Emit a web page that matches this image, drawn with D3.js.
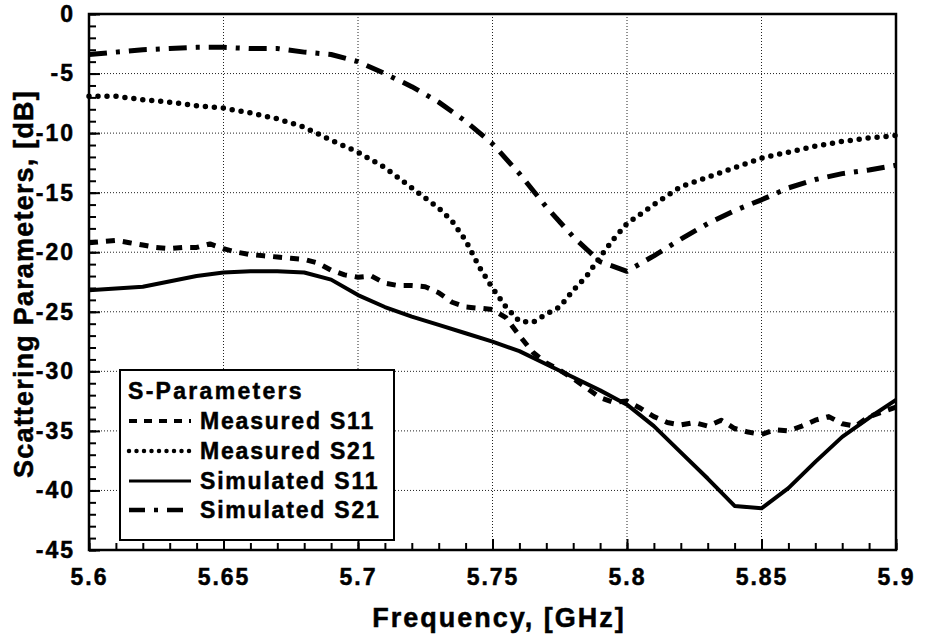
<!DOCTYPE html>
<html>
<head>
<meta charset="utf-8">
<script src="https://cdn.jsdelivr.net/npm/d3@7"></script>
<style>
  html, body { margin: 0; padding: 0; background: #fff; }
  svg { display: block; }
  text { font-family: "Liberation Sans", Arial, Helvetica, sans-serif; font-weight: bold; fill: #000; stroke: #000; stroke-width: 0.5px; }
</style>
</head>
<body>
<svg id="chart" width="930" height="638"></svg>
<script>
// ---------------- data ----------------
const xTicks = [5.6, 5.65, 5.7, 5.75, 5.8, 5.85, 5.9];
const xTickLabels = ["5.6", "5.65", "5.7", "5.75", "5.8", "5.85", "5.9"];
const yTicks = [0, -5, -10, -15, -20, -25, -30, -35, -40, -45];
const yTickLabels = ["0", "-5", "-10", "-15", "-20", "-25", "-30", "-35", "-40", "-45"];

const seriesNames = ["Measured S11", "Measured S21", "Simulated S11", "Simulated S21"];

const measS11Freq = [5.600,5.605,5.610,5.615,5.620,5.625,5.630,5.635,5.640,5.645,5.650,5.655,5.660,5.665,5.670,5.675,5.680,5.685,5.690,5.695,5.700,5.705,5.710,5.715,5.720,5.725,5.730,5.735,5.740,5.745,5.750,5.755,5.760,5.765,5.770,5.775,5.780,5.785,5.790,5.795,5.800,5.805,5.810,5.815,5.820,5.825,5.830,5.835,5.840,5.845,5.850,5.855,5.860,5.865,5.870,5.875,5.880,5.885,5.890,5.895,5.900];
const measS11 = [-19.2,-19.1,-19.0,-19.2,-19.4,-19.6,-19.7,-19.6,-19.6,-19.3,-19.7,-20.0,-20.2,-20.3,-20.4,-20.5,-20.6,-20.9,-21.5,-21.9,-22.1,-22.0,-22.6,-22.8,-22.8,-22.9,-23.4,-24.2,-24.6,-24.7,-24.8,-25.5,-27.0,-28.4,-29.3,-29.9,-30.6,-31.4,-32.2,-32.6,-32.5,-33.1,-33.8,-34.3,-34.5,-34.3,-34.6,-34.1,-34.8,-35.1,-35.3,-34.9,-35.0,-34.6,-34.1,-33.8,-34.4,-34.6,-33.8,-33.4,-33.0];

const measS21Freq = [5.60,5.61,5.62,5.63,5.64,5.65,5.66,5.67,5.68,5.69,5.70,5.71,5.72,5.73,5.735,5.74,5.745,5.75,5.755,5.76,5.765,5.77,5.775,5.78,5.785,5.79,5.795,5.80,5.81,5.82,5.83,5.84,5.85,5.86,5.87,5.88,5.89,5.90];
const measS21 = [-6.9,-6.9,-7.2,-7.4,-7.7,-7.9,-8.3,-8.8,-9.5,-10.6,-11.6,-12.9,-14.6,-16.3,-17.4,-19.0,-21.2,-23.0,-24.6,-25.8,-25.9,-25.2,-24.6,-23.2,-22.0,-20.4,-18.9,-17.6,-16.0,-14.5,-13.7,-12.9,-12.1,-11.6,-11.1,-10.7,-10.4,-10.2];

const simS11Freq = [5.60,5.62,5.64,5.65,5.66,5.67,5.68,5.69,5.70,5.71,5.72,5.73,5.74,5.75,5.76,5.77,5.78,5.79,5.80,5.81,5.82,5.83,5.84,5.85,5.86,5.87,5.88,5.89,5.90];
const simS11 = [-23.2,-22.9,-22.0,-21.7,-21.6,-21.6,-21.7,-22.3,-23.6,-24.6,-25.4,-26.1,-26.8,-27.5,-28.3,-29.4,-30.5,-31.6,-32.8,-34.6,-36.8,-39.0,-41.3,-41.5,-39.8,-37.6,-35.5,-33.9,-32.4];

const simS21Freq = [5.60,5.61,5.62,5.63,5.64,5.65,5.66,5.67,5.68,5.69,5.70,5.71,5.72,5.73,5.74,5.75,5.76,5.77,5.78,5.79,5.80,5.81,5.82,5.83,5.84,5.85,5.86,5.87,5.88,5.89,5.90];
const simS21 = [-3.4,-3.2,-3.0,-2.9,-2.8,-2.8,-2.9,-2.9,-3.2,-3.4,-4.0,-5.0,-6.1,-7.4,-9.0,-10.9,-13.4,-16.2,-18.7,-20.8,-21.6,-20.3,-18.9,-17.6,-16.5,-15.6,-14.6,-13.9,-13.4,-13.1,-12.7];

// ---------------- layout ----------------
const svg = d3.select("#chart");
const L = 89, R = 896, T = 14, B = 550;
const x = d3.scaleLinear().domain([5.6, 5.9]).range([L, R]);
const y = d3.scaleLinear().domain([-45, 0]).range([B, T]);

// grid
const grid = svg.append("g").attr("stroke", "#222").attr("stroke-width", 1).attr("stroke-dasharray", "1,2");
grid.selectAll("line.gx").data(xTicks.slice(1, -1)).join("line")
  .attr("x1", d => x(d)).attr("x2", d => x(d)).attr("y1", T).attr("y2", B);
grid.selectAll("line.gy").data(yTicks.slice(1, -1)).join("line")
  .attr("y1", d => y(d)).attr("y2", d => y(d)).attr("x1", L).attr("x2", R);

// minor ticks
const xMinor = d3.range(5.6, 5.9001, 0.01).map(v => +v.toFixed(2));
const yMinor = d3.range(-45, 0.001, 1);
svg.append("g").attr("transform", `translate(0,${B})`)
  .call(d3.axisBottom(x).tickValues(xMinor).tickSizeInner(-7).tickSizeOuter(0).tickFormat(""))
  .call(g => { g.select(".domain").remove(); g.selectAll("line").attr("stroke", "#000").attr("stroke-width", 2); });
svg.append("g").attr("transform", `translate(${L},0)`)
  .call(d3.axisLeft(y).tickValues(yMinor).tickSizeInner(-7).tickSizeOuter(0).tickFormat(""))
  .call(g => { g.select(".domain").remove(); g.selectAll("line").attr("stroke", "#000").attr("stroke-width", 2); });

// major axes
const xAxis = svg.append("g").attr("transform", `translate(0,${B})`)
  .call(d3.axisBottom(x).tickValues(xTicks).tickSizeInner(-11).tickSizeOuter(0).tickPadding(19)
    .tickFormat((d, i) => xTickLabels[i]));
xAxis.select(".domain").remove();
xAxis.selectAll("line").attr("stroke", "#000").attr("stroke-width", 2);
xAxis.selectAll("text").attr("font-size", 23).style("letter-spacing", "2px")
  .attr("font-family", "Liberation Sans, Arial, sans-serif").attr("font-weight", "bold").attr("fill", "#000");

const yAxis = svg.append("g").attr("transform", `translate(${L},0)`)
  .call(d3.axisLeft(y).tickValues(yTicks).tickSizeInner(-11).tickSizeOuter(0).tickPadding(14)
    .tickFormat((d, i) => yTickLabels[i]));
yAxis.select(".domain").remove();
yAxis.selectAll("line").attr("stroke", "#000").attr("stroke-width", 2);
yAxis.selectAll("text").attr("font-size", 23).style("letter-spacing", "2px")
  .attr("font-family", "Liberation Sans, Arial, sans-serif").attr("font-weight", "bold").attr("fill", "#000");

// frame
svg.append("rect").attr("x", L).attr("y", T).attr("width", R - L).attr("height", B - T)
  .attr("fill", "none").attr("stroke", "#000").attr("stroke-width", 2.5);

// curves
const styles = [
  { w: 5, dash: "9,8", cap: "butt" },
  { w: 5.5, dash: "0,9", cap: "round" },
  { w: 4, dash: null, cap: "butt" },
  { w: 5, dash: "18,9,4,9", cap: "butt" }
];
const series = [
  measS11Freq.map((f, i) => [f, measS11[i]]),
  measS21Freq.map((f, i) => [f, measS21[i]]),
  simS11Freq.map((f, i) => [f, simS11[i]]),
  simS21Freq.map((f, i) => [f, simS21[i]])
];
const line = d3.line().x(d => x(d[0])).y(d => y(d[1]));
const curves = svg.append("g");
series.forEach((s, i) => {
  curves.append("path").datum(s).attr("d", line)
    .attr("fill", "none").attr("stroke", "#000")
    .attr("stroke-width", styles[i].w)
    .attr("stroke-dasharray", styles[i].dash)
    .attr("stroke-linecap", styles[i].cap)
    .attr("stroke-linejoin", "round");
});

// legend
const lg = svg.append("g");
lg.append("rect").attr("x", 120).attr("y", 370).attr("width", 274).attr("height", 170)
  .attr("fill", "#fff").attr("stroke", "#000").attr("stroke-width", 2);
lg.append("text").attr("x", 128).attr("y", 399).attr("font-size", 23).style("letter-spacing", "2.3px")
  .text("S-Parameters");
const legStyles = [
  { w: 4, dash: "8,7", cap: "butt" },
  { w: 4.5, dash: "0,7.5", cap: "round" },
  { w: 3, dash: null, cap: "butt" },
  { w: 4.5, dash: "16,9,4,9", cap: "butt" }
];
const rowY = [421, 451, 481, 510];
seriesNames.forEach((name, i) => {
  lg.append("line").attr("x1", 129).attr("x2", 191).attr("y1", rowY[i]).attr("y2", rowY[i])
    .attr("stroke", "#000").attr("stroke-width", legStyles[i].w)
    .attr("stroke-dasharray", legStyles[i].dash).attr("stroke-linecap", legStyles[i].cap);
  lg.append("text").attr("x", 200).attr("y", rowY[i] + 8).attr("font-size", 23)
    .style("letter-spacing", "1.8px").text(name);
});

// axis titles
svg.append("text").attr("x", 499).attr("y", 627).attr("text-anchor", "middle")
  .attr("font-size", 27).style("letter-spacing", "2px").text("Frequency, [GHz]");
svg.append("text").attr("transform", "translate(33,284) rotate(-90)").attr("text-anchor", "middle")
  .attr("font-size", 27).style("letter-spacing", "1.2px").text("Scattering Parameters, [dB]");
</script>
</body>
</html>
